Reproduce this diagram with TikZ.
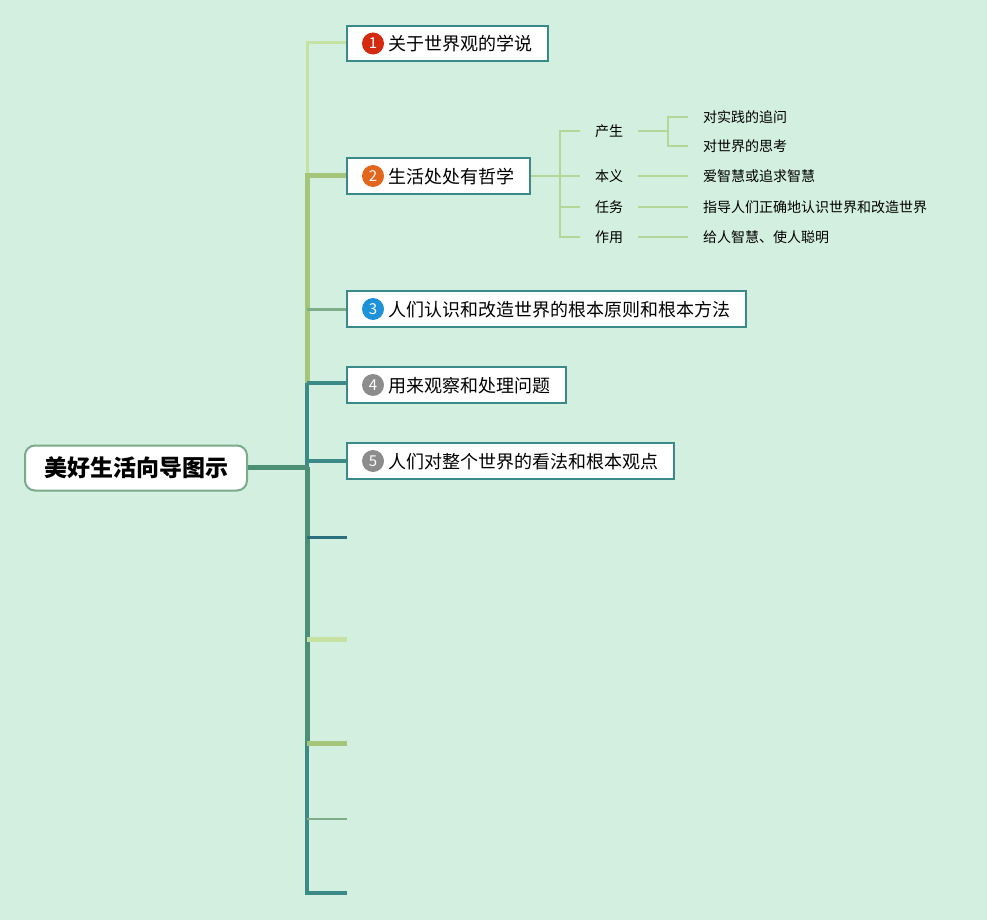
\documentclass[tikz,border=0pt]{standalone}
\usepackage{fontspec}
\setmainfont{Noto Sans CJK SC}
\usetikzlibrary{fit,calc}
\definecolor{bg}{HTML}{D3EFE0}
\definecolor{lgreen}{HTML}{C6E2A2}
\definecolor{mgreen}{HTML}{A5C57B}
\definecolor{ggreen}{HTML}{7FAD89}
\definecolor{teal1}{HTML}{3B8A88}
\definecolor{dteal}{HTML}{2A6F7E}
\definecolor{dgreen}{HTML}{4A8F76}
\definecolor{subline}{HTML}{B4D699}
\definecolor{boxline}{HTML}{3A8A8A}
\definecolor{rootline}{HTML}{7AAA88}
\definecolor{c1}{HTML}{D42A10}
\definecolor{c2}{HTML}{E2661C}
\definecolor{c3}{HTML}{1E92D8}
\definecolor{c4}{HTML}{8C8C8C}
\tikzset{
  box/.style={draw=boxline, line width=2pt, fill=white, inner sep=0pt},
  numc/.style={circle, inner sep=0pt, minimum size=22pt, text=white, font=\fontsize{15}{15}\selectfont},
  btext/.style={anchor=west, inner sep=0pt, font=\fontsize{18}{22}\selectfont},
  stext/.style={anchor=west, inner sep=0pt, font=\fontsize{14}{17}\selectfont},
  sline/.style={draw=subline, line width=1.5pt},
}
\begin{document}
\begin{tikzpicture}[x=1pt,y=-1pt]
\fill[bg] (0,0) rectangle (987,920);
\useasboundingbox (0,0) rectangle (987,920);

% coordinates of spine
\coordinate (j) at (307,467);
\foreach \n/\y in {1/43,2/176,3/309,4/383,5/461,6/537,7/639,8/743,9/819,10/893}{
  \coordinate (s\n) at (307,\y);
  \coordinate (e\n) at (347,\y);
}
% vertical segments
\draw[lgreen, line width=3pt] (s1) -- (s2);
\draw[mgreen, line width=5pt] (s2) -- (s4);
\draw[teal1, line width=4pt] (s4) -- (j);
\draw[dgreen, line width=5pt] (j) -- (s8);
\draw[teal1, line width=4pt] (s8) -- ([yshift=-2pt]s10);
% horizontal ticks
\draw[lgreen, line width=3pt] ([xshift=-1.5pt]s1) -- (e1);
\draw[mgreen, line width=5pt] ([xshift=-2.5pt]s2) -- (e2);
\draw[ggreen, line width=3pt] (s3) -- (e3);
\draw[teal1, line width=4pt] (s4) -- (e4);
\draw[teal1, line width=3.5pt] (s5) -- (e5);
\draw[dteal, line width=3pt] (s6) -- (e6);
\draw[lgreen, line width=5pt] (s7) -- (e7);
\draw[mgreen, line width=5pt] (s8) -- (e8);
\draw[ggreen, line width=1.5pt] (s9) -- (e9);
\draw[teal1, line width=4pt] ([xshift=-2pt]s10) -- (e10);

% root
\node[draw=rootline, line width=2pt, fill=white, rounded corners=10pt, minimum width=222pt, minimum height=45pt, font=\fontsize{23}{26}\selectfont\bfseries] (root) at (136,468) {美好生活向导图示};
\draw[dgreen, line width=5pt] (root.east |- j) -- (j);

% boxes
\node[box, fit={(347,26) (548,61)}] (b1) {};
\node[box, fit={(347,158) (530,194)}] (b2) {};
\node[box, fit={(347,291) (746,327)}] (b3) {};
\node[box, fit={(347,367) (566,403)}] (b4) {};
\node[box, fit={(347,443) (674,479)}] (b5) {};

\node[numc, fill=c1] (n1) at (373,43.5) {1};
\node[numc, fill=c2] (n2) at (373,176) {2};
\node[numc, fill=c3] (n3) at (373,309) {3};
\node[numc, fill=c4] (n4) at (373,385) {4};
\node[numc, fill=c4] (n5) at (373,461) {5};

\node[btext] (t1) at (388,44) {关于世界观的学说};
\node[btext] (t2) at (388,177) {生活处处有哲学};
\node[btext] (t3) at (388,310) {人们认识和改造世界的根本原则和根本方法};
\node[btext] (t4) at (388,386) {用来观察和处理问题};
\node[btext] (t5) at (388,462) {人们对整个世界的看法和根本观点};

% sub-branch of box 2
\coordinate (k) at (560,176);
\node[stext] (p1) at (595,131) {产生};
\node[stext] (p2) at (595,176) {本义};
\node[stext] (p3) at (595,207) {任务};
\node[stext] (p4) at (595,237) {作用};
\draw[sline] (b2.east) -- (k);
\draw[sline] (560,131) -- (560,237);
\foreach \i/\y in {1/131,2/176,3/207,4/237}{
  \draw[sline] (559.25,\y) -- ([xshift=-15pt]p\i.west);
}
\node[stext] (q1) at (703,117) {对实践的追问};
\node[stext] (q2) at (703,146) {对世界的思考};
\node[stext] (q3) at (703,176) {爱智慧或追求智慧};
\node[stext] (q4) at (703,207) {指导人们正确地认识世界和改造世界};
\node[stext] (q5) at (703,237) {给人智慧、使人聪明};
\coordinate (m) at (668,131);
\draw[sline] ([xshift=15pt]p1.east) -- (m);
\draw[sline] (668,117) -- (668,146);
\draw[sline] (667.25,117) -- ([xshift=-15pt]q1.west);
\draw[sline] (667.25,146) -- ([xshift=-15pt]q2.west);
\draw[sline] ([xshift=15pt]p2.east) -- ([xshift=-15pt]q3.west);
\draw[sline] ([xshift=15pt]p3.east) -- ([xshift=-15pt]q4.west);
\draw[sline] ([xshift=15pt]p4.east) -- ([xshift=-15pt]q5.west);
\end{tikzpicture}
\end{document}
